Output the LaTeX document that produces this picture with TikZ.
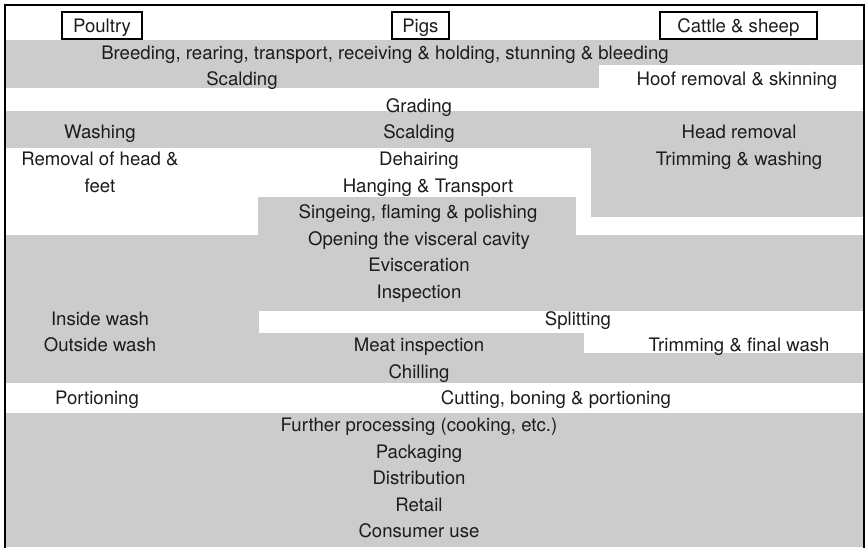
\documentclass[tikz,border=0pt]{standalone}
\usepackage{fontspec}
\setmainfont{TeX Gyre Heros}
\definecolor{bandgray}{HTML}{CCCCCC}
\definecolor{inktext}{HTML}{1C1C1C}
\begin{document}
\begin{tikzpicture}[x=1pt,y=-1pt,
  lbl/.style={anchor=base, inner sep=0pt, text=inktext, font=\fontsize{18.6}{22}\selectfont},
  hdr/.style={draw=black, line width=1.8pt, inner sep=0pt, text=inktext,
    font=\fontsize{18.6}{22}\selectfont, text height=13.3pt, text depth=0pt, minimum height=27pt},
  band/.style={fill=bandgray}]
\useasboundingbox (0,0) rectangle (867,547);
% grey bands
\fill[band] (6,40) rectangle (863,65);
\fill[band] (6,65) rectangle (599,88);
\fill[band] (6,111) rectangle (863,148);
\fill[band] (591,148) rectangle (863,217);
\fill[band] (258,197) rectangle (576,235);
\fill[band] (6,235) rectangle (863,311);
\fill[band] (6,311) rectangle (259,333);
\fill[band] (6,333) rectangle (584,353);
\fill[band] (6,353) rectangle (863,383);
\fill[band] (6,413) rectangle (863,547);
% frame
\draw[line width=2pt] (5,548) -- (5,5) -- (864,5) -- (864,548);
% headers
\node[hdr, minimum width=80pt] (poultry) at (102,25.5) {Poultry};
\node[hdr, minimum width=57pt] (pigs) at (420.4,25.5) {Pigs};
\node[hdr, minimum width=157pt] (cattle) at (738.4,25.5) {Cattle \& sheep};
% steps
\node[lbl] (breed) at (385,59) {Breeding, rearing, transport, receiving \& holding, stunning \& bleeding};
\node[lbl] (scald1) at (242,85.6) {Scalding};
\node[lbl] (hoof) at (737,85.6) {Hoof removal \& skinning};
\node[lbl] (grading) at (419,112.2) {Grading};
\node[lbl] (washing) at (100,138.8) {Washing};
\node[lbl] (scald2) at (419,138.8) {Scalding};
\node[lbl] (headrem) at (739,138.8) {Head removal};
\node[lbl] (removal) at (100,165.4) {Removal of head \&};
\node[lbl] (dehair) at (419,165.4) {Dehairing};
\node[lbl] (trimwash) at (739,165.4) {Trimming \& washing};
\node[lbl] (feet) at (100,192) {feet};
\node[lbl] (hanging) at (428,192) {Hanging \& Transport};
\node[lbl] (singe) at (418,218.6) {Singeing, flaming \& polishing};
\node[lbl] (opening) at (419,245.2) {Opening the visceral cavity};
\node[lbl] (evisc) at (419,271.8) {Evisceration};
\node[lbl] (inspect) at (419,298.4) {Inspection};
\node[lbl] (inside) at (100,325) {Inside wash};
\node[lbl] (split) at (578,325) {Splitting};
\node[lbl] (outside) at (100,351.6) {Outside wash};
\node[lbl] (meat) at (419,351.6) {Meat inspection};
\node[lbl] (trimfinal) at (739,351.6) {Trimming \& final wash};
\node[lbl] (chill) at (419,378.2) {Chilling};
\node[lbl] (portion) at (97,404.8) {Portioning};
\node[lbl] (cutting) at (556,404.8) {Cutting, boning \& portioning};
\node[lbl] (further) at (419,431.4) {Further processing (cooking, etc.)};
\node[lbl] (pack) at (419,458) {Packaging};
\node[lbl] (distr) at (419,484.6) {Distribution};
\node[lbl] (retail) at (419,511.2) {Retail};
\node[lbl] (consumer) at (419,537.8) {Consumer use};
\end{tikzpicture}
\end{document}
